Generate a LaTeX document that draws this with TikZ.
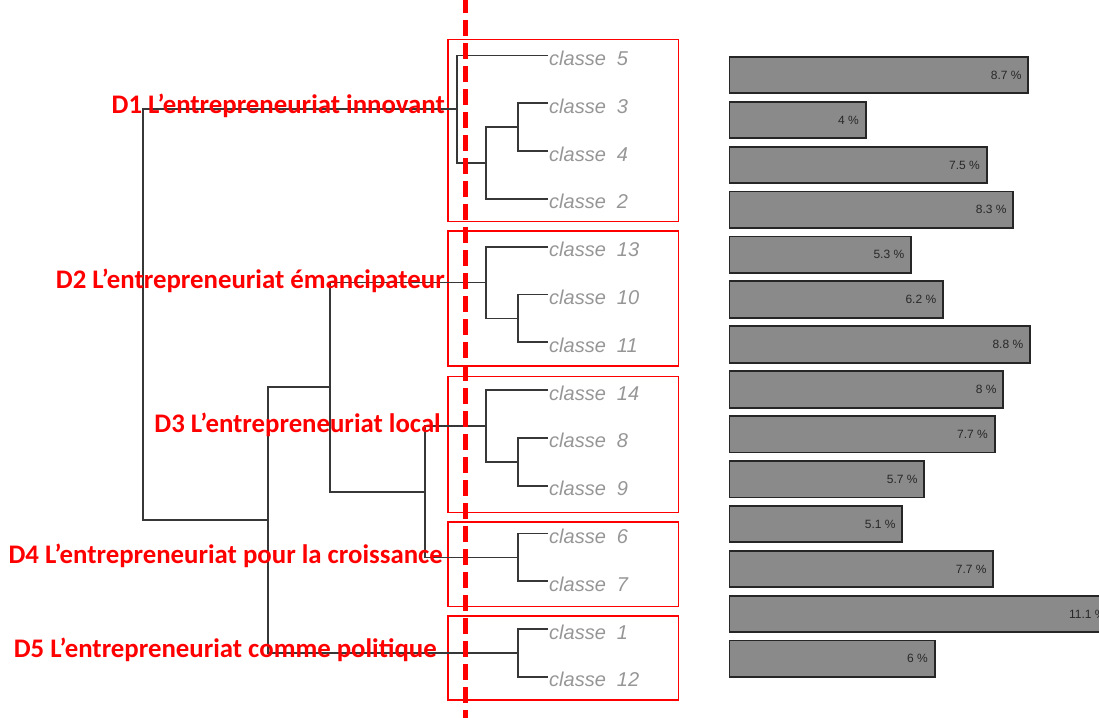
\documentclass[tikz,border=0pt]{standalone}
\usepackage{fontspec}
\setmainfont{Liberation Sans}
\newfontfamily\labfont{Carlito}
\definecolor{dendc}{RGB}{55,55,55}
\definecolor{leafc}{RGB}{150,150,150}
\definecolor{barc}{RGB}{138,138,138}
\definecolor{pctc}{RGB}{40,40,40}
\begin{document}
\begin{tikzpicture}[x=1pt,y=-1pt,
  dend/.style={draw=dendc, line width=1.8pt},
  leaf/.style={font=\fontsize{20}{20}\selectfont\itshape, text=leafc, inner xsep=1pt, inner ysep=0pt, text height=20pt, text depth=0pt, anchor=west},
  grp/.style={draw=red, line width=1.6pt},
  dom/.style={font=\labfont\bfseries\fontsize{26.8}{26.8}\selectfont, text=red, inner sep=0pt, anchor=base east},
  barbox/.style={draw=black!85, fill=barc, line width=1.8pt, minimum height=36.5pt, inner sep=0pt, anchor=north west},
  pct/.style={font=\fontsize{12}{12}\selectfont, text=pctc, inner sep=0pt, anchor=base east},
  cut/.style={draw=red, line width=5.5pt, dash pattern=on 16pt off 7pt}
]
\useasboundingbox (0,0) rectangle (1099,717);
\clip (0,0) rectangle (1099,717);

% group boxes
\draw[grp] (448,39.5) rectangle (678.5,221.5);
\draw[grp] (448,231) rectangle (678.5,366);
\draw[grp] (448,376.5) rectangle (678.5,512.5);
\draw[grp] (448,522) rectangle (678.5,606.5);
\draw[grp] (448,616) rectangle (678.5,700);

% leaves
\node[leaf] (l5)  at (548,55.5)  {classe\ \ 5};
\node[leaf] (l3)  at (548,103.3) {classe\ \ 3};
\node[leaf] (l4)  at (548,151.1) {classe\ \ 4};
\node[leaf] (l2)  at (548,198.9) {classe\ \ 2};
\node[leaf] (l13) at (548,246.7) {classe\ \ 13};
\node[leaf] (l10) at (548,294.5) {classe\ \ 10};
\node[leaf] (l11) at (548,342.3) {classe\ \ 11};
\node[leaf] (l14) at (548,390.1) {classe\ \ 14};
\node[leaf] (l8)  at (548,437.9) {classe\ \ 8};
\node[leaf] (l9)  at (548,485.7) {classe\ \ 9};
\node[leaf] (l6)  at (548,533.5) {classe\ \ 6};
\node[leaf] (l7)  at (548,581.3) {classe\ \ 7};
\node[leaf] (l1)  at (548,629.1) {classe\ \ 1};
\node[leaf] (l12) at (548,676.9) {classe\ \ 12};

% joins
\coordinate (j34)   at (518,127.2);
\coordinate (j234)  at (486,163.05);
\coordinate (jc1)   at (457,109.3);
\coordinate (j1011) at (518,318.4);
\coordinate (jc2)   at (486,282.55);
\coordinate (j89)   at (518,461.8);
\coordinate (jc3)   at (486,425.95);
\coordinate (jc4)   at (518,557.4);
\coordinate (jc5)   at (518,653);
\coordinate (j34c)  at (425,491.7);
\coordinate (j234c) at (330,387.1);
\coordinate (j2345) at (268,520);
\coordinate (root)  at (143,314.7);

\draw[dend] (l3.west) -| (j34) |- (l4.west);
\draw[dend] (j34) -| (j234) |- (l2.west);
\draw[dend] (l5.west) -| (jc1) |- (j234);
\draw[dend] (l10.west) -| (j1011) |- (l11.west);
\draw[dend] (l13.west) -| (jc2) |- (j1011);
\draw[dend] (l8.west) -| (j89) |- (l9.west);
\draw[dend] (l14.west) -| (jc3) |- (j89);
\draw[dend] (l6.west) -| (jc4) |- (l7.west);
\draw[dend] (l1.west) -| (jc5) |- (l12.west);
\draw[dend] (jc3) -| (j34c) |- (jc4);
\draw[dend] (jc2) -| (j234c) |- (j34c);
\draw[dend] (j234c) -| (j2345) |- (jc5);
\draw[dend] (jc1) -| (root) |- (j2345);

% domain labels
\node[dom] (d1) at (445,113) {D1 L’entrepreneuriat innovant};
\node[dom] (d2) at (445,288) {D2 L’entrepreneuriat émancipateur};
\node[dom] (d3) at (441,432) {D3 L’entrepreneuriat local};
\node[dom] (d4) at (443,563) {D4 L’entrepreneuriat pour la croissance};
\node[dom] (d5) at (437,657) {D5 L’entrepreneuriat comme politique};

% cut line
\coordinate (cutT) at (465.5,-3);
\coordinate (cutB) at (465.5,720);
\draw[cut] (cutT) -- (cutB);

% bars
\foreach \p/\w [count=\i] in {8.7/298.9, 4/136.3, 7.5/257.3, 8.3/283.9, 5.3/181.6, 6.2/213.6, 8.8/300.6, 8/273.9, 7.7/265.3, 5.7/194.9, 5.1/172.9, 7.7/263.9, 11.1/383, 6/205.3}{
  \node[barbox, minimum width=\w pt] (b\i) at (728.5,{55.9+44.9*(\i-1)}) {};
  \node[pct] (p\i) at ([xshift=-7.5pt,yshift=-4.2pt]b\i.east) {\p~\%};
}
\end{tikzpicture}
\end{document}
